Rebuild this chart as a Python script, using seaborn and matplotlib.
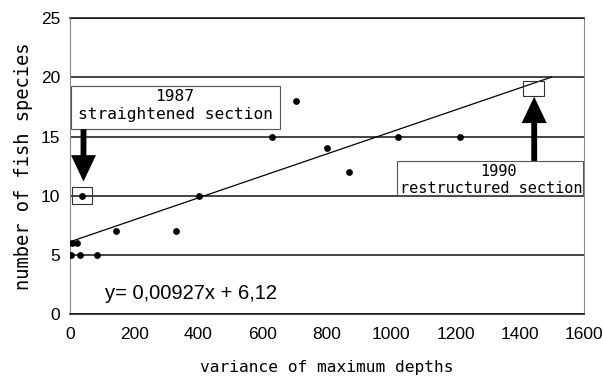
import matplotlib
matplotlib.use("Agg")
import matplotlib.pyplot as plt
from matplotlib.patches import Rectangle
import numpy as np
import pandas as pd
import seaborn as sns

# Sampled river sections: variance of maximum depths vs. number of fish species
variance = [2, 5, 22, 30, 36, 85, 142, 330, 400, 630, 705, 800, 870, 1020, 1215]
species = [5, 6, 6, 5, 10, 5, 7, 7, 10, 15, 18, 14, 12, 15, 15]

# Linear fit reported on the chart
slope, intercept = 0.00927, 6.12
fit_x = [0, 1500]

x_ticks = [0, 200, 400, 600, 800, 1000, 1200, 1400, 1600]
y_ticks = [0, 5, 10, 15, 20, 25]

# Highlighted sections
sec_1987 = (36, 10)
sec_1990 = (1442, 19.08)

MONO = ["DejaVu Sans Mono"]

sns.set_style("white")
plt.rcParams["font.family"] = ["Liberation Sans", "DejaVu Sans"]
plt.rcParams["text.color"] = "black"
plt.rcParams["axes.labelcolor"] = "black"
plt.rcParams["xtick.color"] = "black"
plt.rcParams["ytick.color"] = "black"

df = pd.DataFrame({"variance": variance, "species": species})
fit = pd.DataFrame({"x": fit_x, "y": [slope * v + intercept for v in fit_x]})

fig = plt.figure(figsize=(6.03, 3.78), dpi=100)
ax = fig.add_axes([0.1161, 0.1685, 0.8524, 0.7839])

sns.lineplot(data=fit, x="x", y="y", color="black", linewidth=0.9, ax=ax, zorder=4)
sns.scatterplot(data=df, x="variance", y="species", color="black", s=24,
                linewidth=0, ax=ax, zorder=5)

ax.set_xlim(0, 1600)
ax.set_ylim(0, 25)
ax.set_xticks(x_ticks)
ax.set_yticks(y_ticks)
ax.yaxis.grid(True, color="#111111", linewidth=1.1)
ax.xaxis.grid(False)
ax.set_axisbelow(True)

for side in ("top", "bottom"):
    ax.spines[side].set_color("#111111")
    ax.spines[side].set_linewidth(1.1)
for side in ("left", "right"):
    ax.spines[side].set_color("#888888")
    ax.spines[side].set_linewidth(0.8)

ax.tick_params(axis="x", direction="inout", length=10, width=0.8, color="#333333",
               pad=4, labelsize=12.5, labelcolor="black")
ax.tick_params(axis="y", length=0, pad=7, labelsize=12.5, labelcolor="black")

ax.set_xlabel("variance of maximum depths", family=MONO, fontsize=11.7, va="center")
ax.xaxis.set_label_coords(0.5, -0.181)
ax.set_ylabel("number of fish species", family=MONO, fontsize=13.5, va="center")
ax.yaxis.set_label_coords(-0.0914, 0.5)

# Regression equation
ax.text(109, 1.77, "y= 0,00927x + 6,12", fontsize=14.5, va="center", ha="left", zorder=6)

# Label boxes
ax.add_patch(Rectangle((3, 15.61), 650, 3.66, fc="white", ec="#555555", lw=0.8, zorder=3))
ax.text(327, 18.36, "1987", family=MONO, fontsize=11.7, ha="center", va="center", zorder=4)
ax.text(328, 16.82, "straightened section", family=MONO, fontsize=11.7,
        ha="center", va="center", zorder=4)

ax.add_patch(Rectangle((1019, 10.07), 578, 2.87, fc="white", ec="#555555", lw=0.8, zorder=3))
ax.text(1334, 12.03, "1990", family=MONO, fontsize=11, ha="center", va="center", zorder=4)
ax.text(1310, 10.63, "restructured section", family=MONO, fontsize=11,
        ha="center", va="center", zorder=4)

# Small squares marking the two sections
ax.add_patch(Rectangle((sec_1987[0] - 29, sec_1987[1] - 0.7), 63, 1.4,
                       fc="none", ec="#333333", lw=0.8, zorder=6))
ax.add_patch(Rectangle((sec_1990[0] - 32, sec_1990[1] - 0.63), 64, 1.26,
                       fc="none", ec="#333333", lw=0.8, zorder=6))

# Thick arrows from labels to the marked sections
arrow = dict(arrowstyle="simple,head_length=1.9,head_width=1.8,tail_width=0.42",
             fc="black", ec="black", lw=0, shrinkA=0, shrinkB=0, mutation_scale=10)
ax.annotate("", xy=(42, 11.2), xytext=(42, 15.61), arrowprops=arrow, zorder=7)
ax.annotate("", xy=(1445, 18.36), xytext=(1445, 12.94), arrowprops=arrow, zorder=7)

fig.savefig("out.png", dpi=100)
